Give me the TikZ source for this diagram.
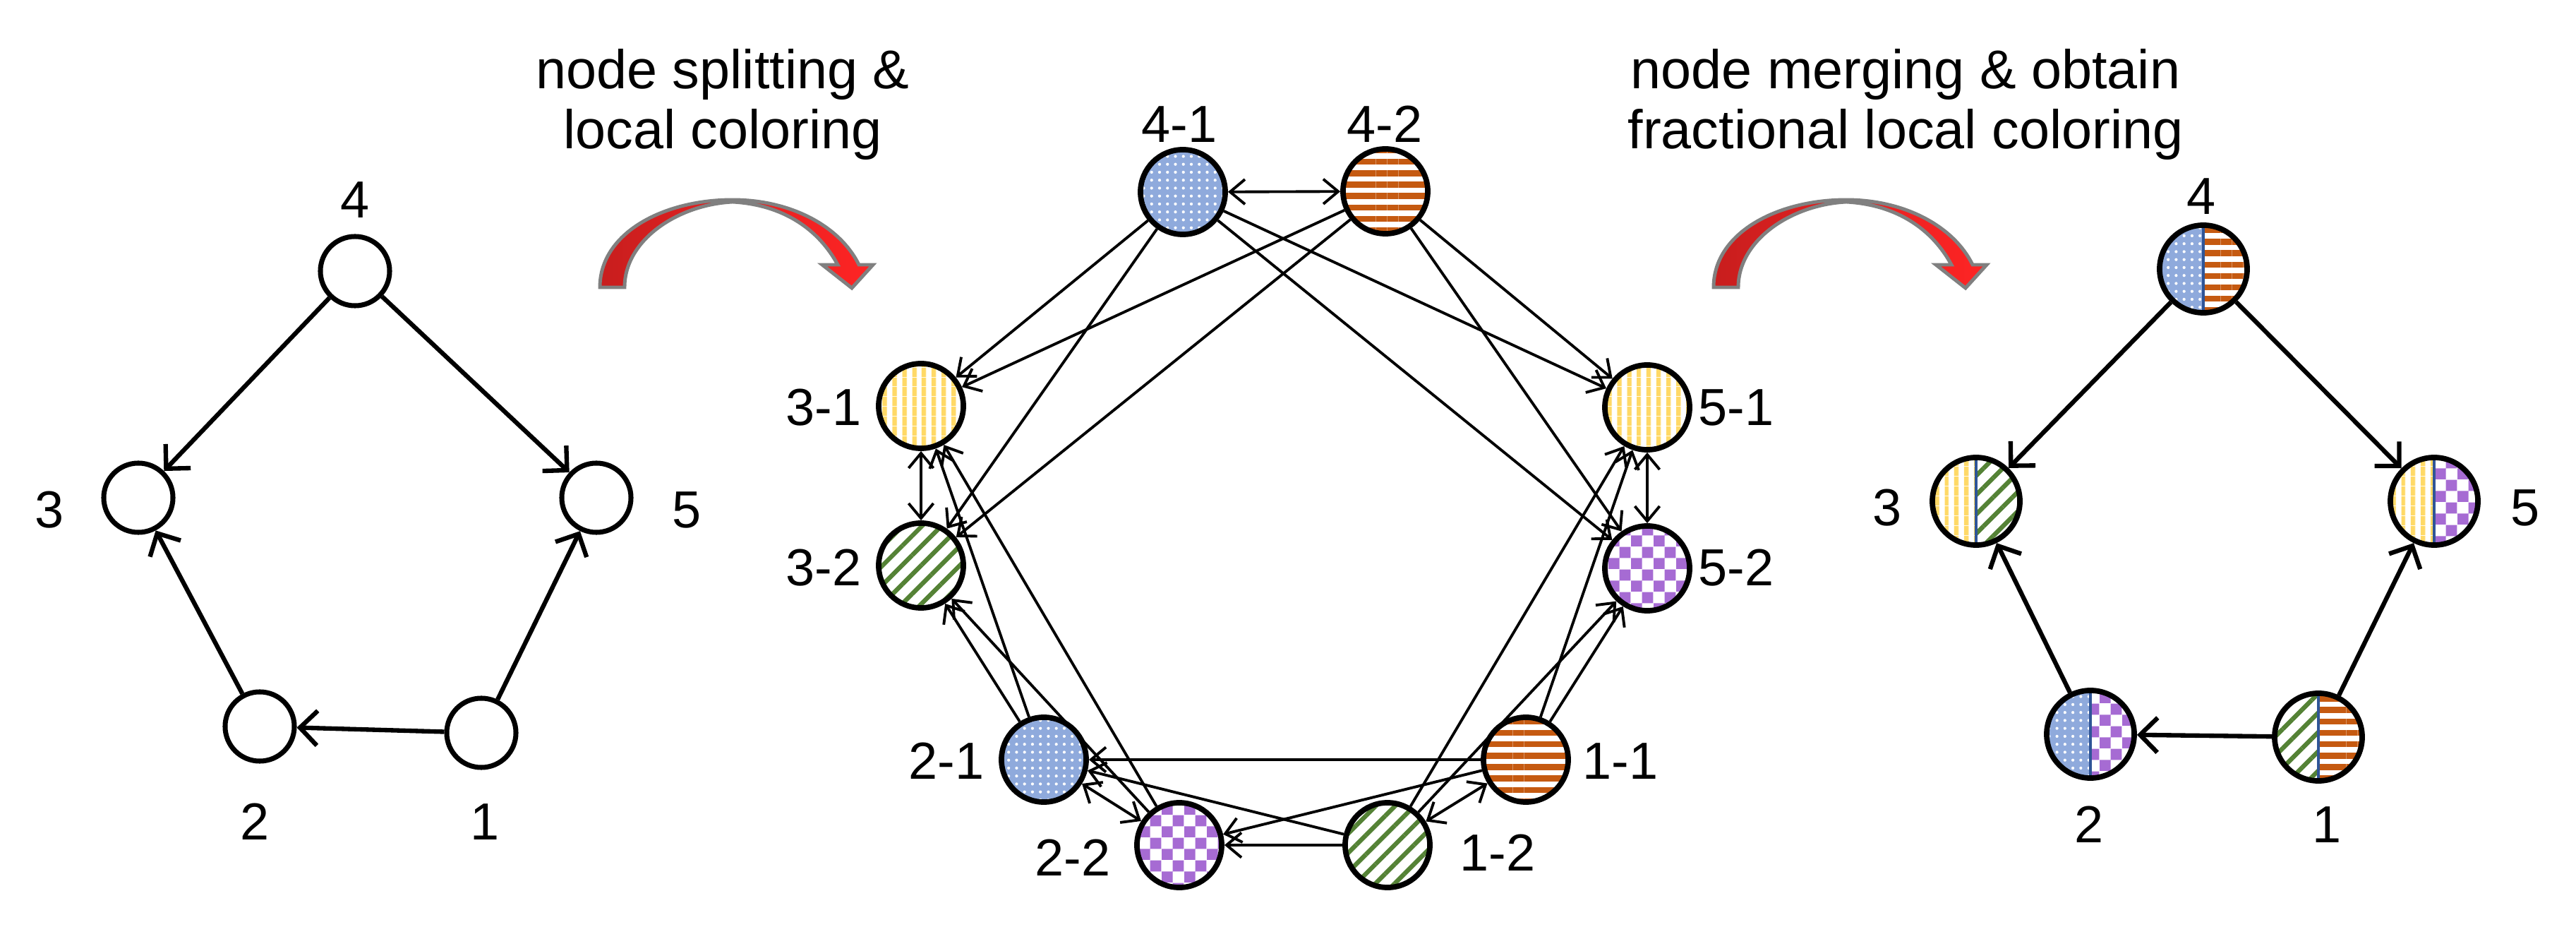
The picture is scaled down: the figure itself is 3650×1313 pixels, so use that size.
\documentclass[tikz,border=0pt]{standalone}
\usepackage{fontspec}
\setmainfont{Liberation Sans}
\usetikzlibrary{arrows.meta,patterns.meta}
\definecolor{bluec}{HTML}{8FAADC}
\definecolor{orangec}{HTML}{C55A11}
\definecolor{yellowc}{HTML}{FFD966}
\definecolor{greenc}{HTML}{548235}
\definecolor{purplec}{HTML}{A66BD3}
\definecolor{divc}{HTML}{2F5597}
\definecolor{redd}{HTML}{C81E1E}
\definecolor{redl}{HTML}{FF2424}
\pgfdeclarepatternformonly{checks}{\pgfpointorigin}{\pgfpoint{9pt}{9pt}}{\pgfpoint{9pt}{9pt}}{%
  \pgfpathrectangle{\pgfpointorigin}{\pgfpoint{4.5pt}{4.5pt}}%
  \pgfpathrectangle{\pgfpoint{4.5pt}{4.5pt}}{\pgfpoint{4.5pt}{4.5pt}}%
  \pgfusepath{fill}}
\newcommand\halfnode[4]{%
  \coordinate (#1c) at #2;
  \path[#3] (#1c) ++(90:0.62cm) arc[start angle=90,end angle=270,radius=0.62cm] -- cycle;
  \path[#4] (#1c) ++(90:0.62cm) arc[start angle=90,end angle=-90,radius=0.62cm] -- cycle;
  \draw[divc,line width=1.3pt] (#1c) ++(0,0.6cm) -- ++(0,-1.2cm);
  \node[rnode] (#1) at (#1c) {};}
\begin{document}
\begin{tikzpicture}[x=0.01cm,y=-0.01cm,font=\fontsize{21}{24}\selectfont,
    lnode/.style={circle,draw,line width=2pt,minimum size=0.98cm,inner sep=0pt},
    mnode/.style={circle,draw,line width=2.2pt,minimum size=1.2cm,inner sep=0pt},
    rnode/.style={circle,draw,line width=2.2pt,minimum size=1.24cm,inner sep=0pt},
    ledge/.style={line width=1.8pt,-{Straight Barb[length=7pt,width=14pt]}},
    medge/.style={line width=1.1pt,-{Straight Barb[length=6pt,width=10pt]}},
    bedge/.style={line width=1.1pt,{Straight Barb[length=6pt,width=10pt]}-{Straight Barb[length=6pt,width=10pt]}},
    blu/.style={preaction={fill=bluec},preaction={pattern={Dots[distance=3.2pt,radius=0.6pt]},pattern color=white}},
    org/.style={preaction={fill=white},preaction={pattern={Lines[angle=0,distance=4.6pt,line width=2.4pt]},pattern color=orangec}},
    ylw/.style={preaction={fill=white},preaction={pattern={Lines[angle=90,distance=4pt,line width=2pt]},pattern color=yellowc}},
    grn/.style={preaction={fill=white},preaction={pattern={Lines[angle=45,distance=5.5pt,line width=1.8pt]},pattern color=greenc}},
    prp/.style={preaction={fill=white},preaction={pattern=checks,pattern color=purplec}},
    redbend/.style={draw=gray,line width=1.4pt,left color=redd,right color=redl}]
  \useasboundingbox (0,0) rectangle (3650,1313);
  % titles
  \node[align=center,font=\fontsize{22}{24}\selectfont] (tsplit) at (1024,148) {node splitting \&\\local coloring};
  \node[align=center,font=\fontsize{22}{24}\selectfont] (tmerge) at (2700,148) {node merging \& obtain\\fractional local coloring};
  % red arrows
  \foreach \s in {0,1578}
    \path[redbend,shift={(\s,0)}] (850,407) .. controls (850,330) and (940,283) .. (1038,283)
      .. controls (1120,283) and (1190,320) .. (1217,375) -- (1237,375) -- (1207,408) -- (1165,375)
      -- (1187,375) .. controls (1160,325) and (1110,290) .. (1038,286)
      .. controls (960,290) and (885,340) .. (885,407) -- cycle;
  % original graph
  \node[lnode] (l4) at (503,384) {};
  \node[lnode] (l3) at (196,705) {};
  \node[lnode] (l5) at (845,705) {};
  \node[lnode] (l2) at (368,1029) {};
  \node[lnode] (l1) at (682,1038) {};
  \node (ll4) at (503,283) {4};
  \node (ll3) at (70,722) {3};
  \node (ll5) at (973,722) {5};
  \node (ll2) at (361,1164) {2};
  \node (ll1) at (687,1164) {1};
  \foreach \a/\b in {l4/l3,l4/l5,l2/l3,l1/l5,l1/l2}
    \draw[ledge] (\a) -- (\b);
  % split graph
  \node[mnode,blu] (m41) at (1676,272) {};
  \node[mnode,org] (m42) at (1963,271) {};
  \node[mnode,ylw] (m31) at (1305,575) {};
  \node[mnode,grn] (m32) at (1305,801) {};
  \node[mnode,ylw] (m51) at (2334,577) {};
  \node[mnode,prp] (m52) at (2334,805) {};
  \node[mnode,blu] (m21) at (1479,1076) {};
  \node[mnode,prp] (m22) at (1671,1197) {};
  \node[mnode,grn] (m12) at (1966,1197) {};
  \node[mnode,org] (m11) at (2162,1076) {};
  \node (ml41) at (1671,176) {4-1};
  \node (ml42) at (1962,176) {4-2};
  \node (ml31) at (1167,577) {3-1};
  \node (ml32) at (1167,804) {3-2};
  \node (ml51) at (2460,577) {5-1};
  \node (ml52) at (2460,804) {5-2};
  \node (ml21) at (1341,1078) {2-1};
  \node (ml22) at (1520,1215) {2-2};
  \node (ml12) at (2122,1208) {1-2};
  \node (ml11) at (2296,1078) {1-1};
  \foreach \a/\b in {m41/m31,m41/m32,m41/m51,m41/m52,m42/m31,m42/m32,m42/m51,m42/m52,
      m21/m31,m21/m32,m22/m31,m22/m32,m11/m51,m11/m52,m12/m51,m12/m52,
      m11/m21,m11/m22,m12/m21,m12/m22}
    \draw[medge] (\a) -- (\b);
  \foreach \a/\b in {m41/m42,m31/m32,m51/m52,m21/m22,m11/m12}
    \draw[bedge] (\a) -- (\b);
  % merged graph
  \halfnode{r4}{(3122,381)}{blu}{org}
  \halfnode{r3}{(2800,710)}{ylw}{grn}
  \halfnode{r5}{(3449,710)}{ylw}{prp}
  \halfnode{r2}{(2962,1040)}{blu}{prp}
  \halfnode{r1}{(3285,1044)}{grn}{org}
  \node (rl4) at (3119,278) {4};
  \node (rl3) at (2674,719) {3};
  \node (rl5) at (3578,719) {5};
  \node (rl2) at (2960,1168) {2};
  \node (rl1) at (3297,1168) {1};
  \foreach \a/\b in {r4/r3,r4/r5,r2/r3,r1/r5,r1/r2}
    \draw[ledge] (\a) -- (\b);
\end{tikzpicture}
\end{document}
